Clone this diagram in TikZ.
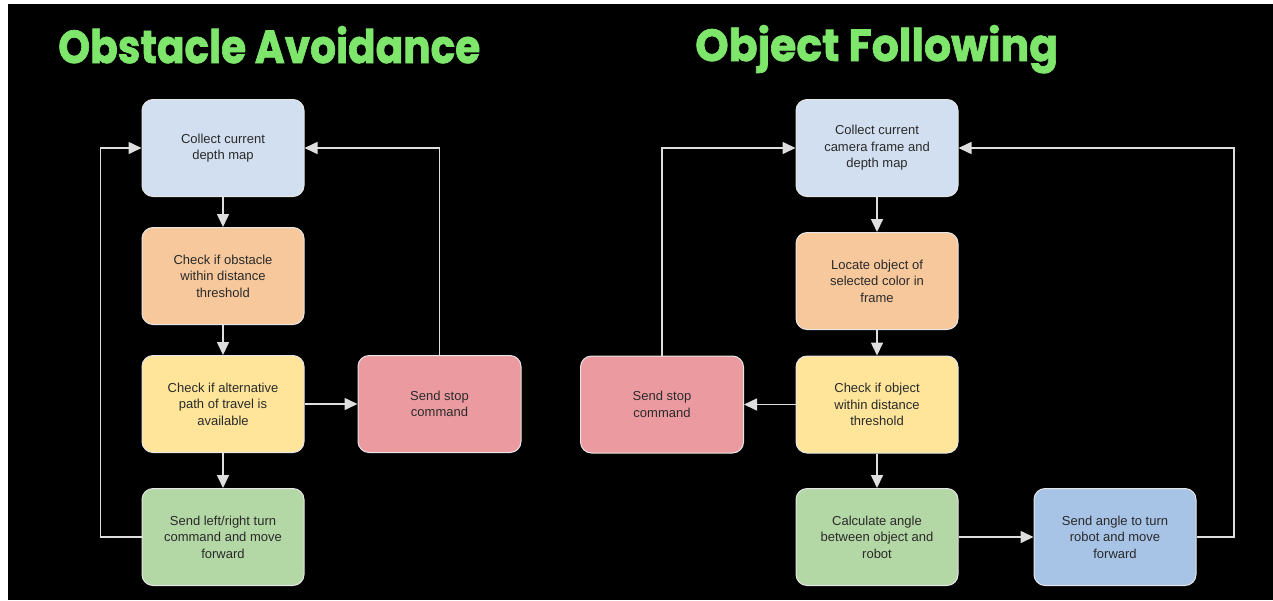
\documentclass[tikz,border=0pt]{standalone}
\usepackage{fontspec}
\setmainfont{Liberation Sans}
\newfontfamily\titlefont[BoldFeatures={FakeBold=1.6}]{Poppins}
\usetikzlibrary{arrows.meta}

\definecolor{titlegreen}{HTML}{7DE66B}
\definecolor{fillblue}{HTML}{D2DFF0}
\definecolor{fillorange}{HTML}{F6C89C}
\definecolor{fillyellow}{HTML}{FFE59A}
\definecolor{fillgreen}{HTML}{B3D7A5}
\definecolor{fillred}{HTML}{EB9BA0}
\definecolor{fillsteel}{HTML}{A7C3E6}
\definecolor{boxline}{HTML}{E6E6E6}
\definecolor{linkgray}{HTML}{DEDEDE}
\definecolor{boxtext}{HTML}{2A2A2A}

\tikzset{
  stepbox/.style={draw=boxline, line width=1pt, rounded corners=11pt,
    minimum width=162pt, minimum height=97pt, align=center, inner sep=0pt,
    text=boxtext, font=\fontsize{13}{16.5}\selectfont},
  flow/.style={draw=linkgray, line width=1.6pt,
    -{Triangle[length=13pt,width=12pt]}},
  heading/.style={anchor=base west, inner sep=0pt, text=titlegreen}
}

\begin{document}
\begin{tikzpicture}[x=1pt,y=-1pt]
  % canvas
  \fill[white] (0,0) rectangle (1273,600);
  \fill[black] (8,4) rectangle (1273,600);
  \useasboundingbox (0,0) rectangle (1273,600);

  % headings
  \node[heading] (t1) at (58,63)
    {\resizebox{422pt}{37pt}{\titlefont\bfseries Obstacle Avoidance}};
  \node[heading] (t2) at (695,61)
    {\resizebox{363pt}{36pt}{\titlefont\bfseries Object Following}};

  % obstacle avoidance loop
  \node[stepbox, fill=fillblue]   (a) at (223,148) {Collect current\\depth map};
  \node[stepbox, fill=fillorange] (b) at (223,276) {Check if obstacle\\within distance\\threshold};
  \node[stepbox, fill=fillyellow] (c) at (223,404) {Check if alternative\\path of travel is\\available};
  \node[stepbox, fill=fillgreen]  (d) at (223,537) {Send left/right turn\\command and move\\forward};
  \node[stepbox, fill=fillred, minimum width=163pt] (e) at (439.5,404) {Send stop\\command};

  \draw[flow] (a) -- (b);
  \draw[flow] (b) -- (c);
  \draw[flow] (c) -- (d);
  \draw[flow] (c) -- (e);
  \draw[flow] (d.west) -- ++(-41,0) |- (a.west);
  \draw[flow] (e.north) |- (a.east);

  % object following loop
  \node[stepbox, fill=fillblue]   (f) at (877,148) {Collect current\\camera frame and\\depth map};
  \node[stepbox, fill=fillorange] (g) at (877,281) {Locate object of\\selected color in\\frame};
  \node[stepbox, fill=fillyellow] (h) at (877,404.5) {Check if object\\within distance\\threshold};
  \node[stepbox, fill=fillred, minimum width=163pt] (i) at (662,404.5) {Send stop\\command};
  \node[stepbox, fill=fillgreen]  (j) at (877,537) {Calculate angle\\between object and\\robot};
  \node[stepbox, fill=fillsteel]  (k) at (1115,537) {Send angle to turn\\robot and move\\forward};

  \draw[flow] (f) -- (g);
  \draw[flow] (g) -- (h);
  \draw[flow] (h) -- (i);
  \draw[flow] (h) -- (j);
  \draw[flow] (j) -- (k);
  \draw[flow] (k.east) -- ++(37.5,0) |- (f.east);
  \draw[flow] (i.north) |- (f.west);
\end{tikzpicture}
\end{document}
